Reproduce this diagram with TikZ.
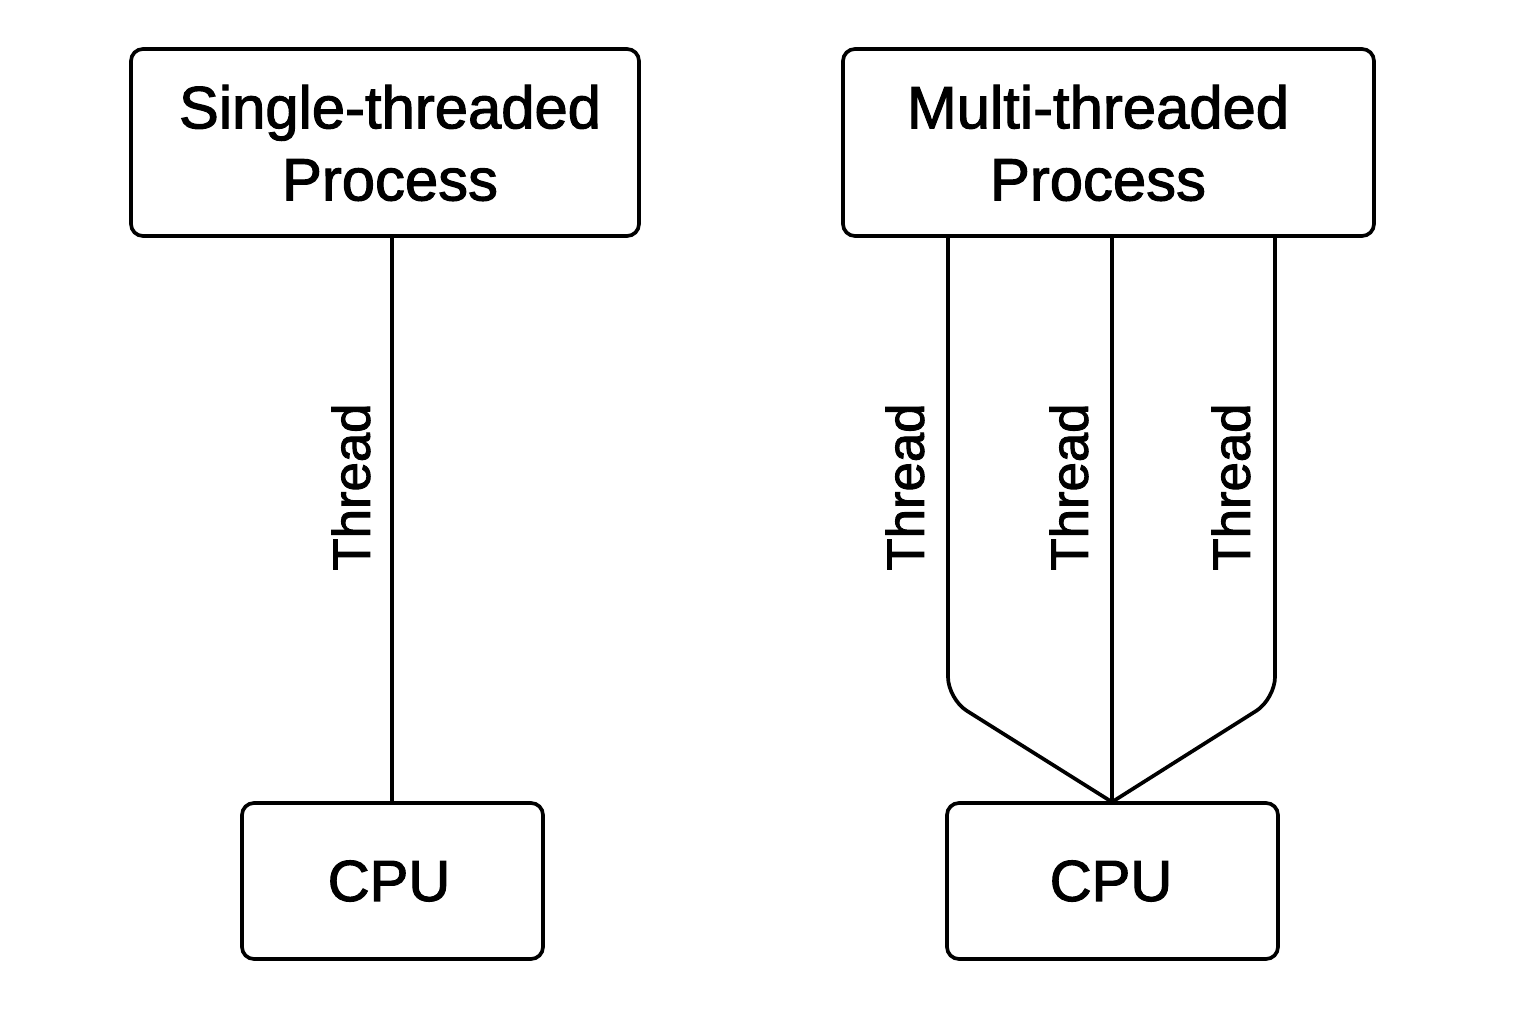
\documentclass[tikz,border=0pt]{standalone}
\usepackage{fontspec}
\setmainfont{Liberation Sans}[FakeBold=1.8]
\begin{document}
\begin{tikzpicture}[x=0.01cm,y=-0.01cm,
  box/.style={draw=black,line width=1.05pt,rounded corners=0.12cm,fill=white},
  title/.style={font=\fontsize{17}{20.5}\selectfont,align=center},
  wire/.style={draw=black,line width=1.05pt},
  threadlabel/.style={font=\fontsize{15}{18}\selectfont,rotate=90,anchor=south,inner sep=0pt}]
  \useasboundingbox (0,0) rectangle (1536,1024);

  % process boxes
  \path[box] (131,49) rectangle (639,236);
  \node[title] (single) at (390,143) {Single-threaded\\Process};
  \coordinate (singlebot) at (392,236);

  \path[box] (843,49) rectangle (1374,236);
  \node[title] (multi) at (1098,143) {Multi-threaded\\Process};
  \coordinate (mleft) at (948,236);
  \coordinate (mmid) at (1112,236);
  \coordinate (mright) at (1275,236);

  % CPU boxes
  \path[box] (242,803) rectangle (543,959);
  \node[title,font=\fontsize{16.5}{20}\selectfont] (cpuL) at (389,881) {CPU};
  \coordinate (cpuLtop) at (392,803);

  \path[box] (947,803) rectangle (1278,959);
  \node[title,font=\fontsize{16.5}{20}\selectfont] (cpuR) at (1111,881) {CPU};
  \coordinate (cpuRtop) at (1112,802);

  % threads
  \draw[wire] (singlebot) -- (cpuLtop);
  \draw[wire] (mmid) -- (cpuRtop);
  \draw[wire,rounded corners=0.22cm] (mleft) -- (948,699) -- (cpuRtop);
  \draw[wire,rounded corners=0.22cm] (mright) -- (1275,699) -- (cpuRtop);

  \node[threadlabel] (t0) at (371,487) {Thread};
  \node[threadlabel] (t1) at (925,487) {Thread};
  \node[threadlabel] (t2) at (1089,487) {Thread};
  \node[threadlabel] (t3) at (1251,487) {Thread};
\end{tikzpicture}
\end{document}
